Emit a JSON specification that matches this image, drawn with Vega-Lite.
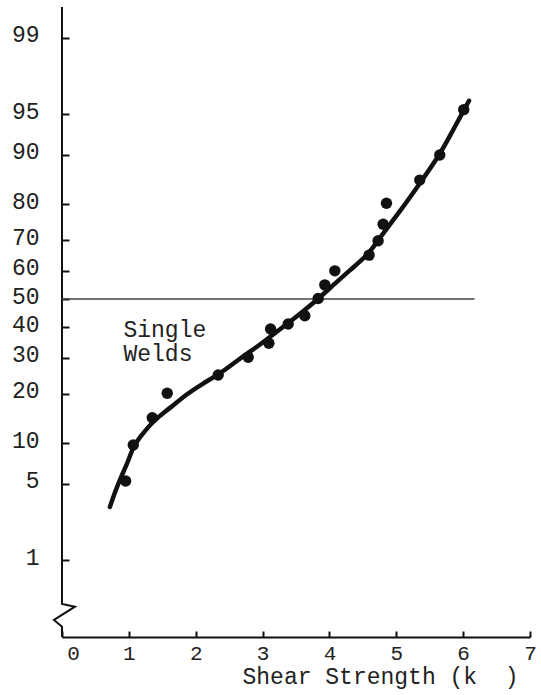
{
  "$schema": "https://vega.github.io/schema/vega-lite/v6.json",
  "width": 468,
  "height": 630,
  "autosize": {"type": "none"},
  "padding": {"left": 62, "top": 7, "right": 11, "bottom": 58},
  "background": "white",
  "config": {
    "view": {"stroke": null},
    "font": "Liberation Mono",
    "axis": {
      "labelFont": "Liberation Mono",
      "labelFontSize": 23,
      "labelColor": "#222",
      "titleFont": "Liberation Mono",
      "titleFontSize": 23,
      "titleFontWeight": "normal",
      "titleColor": "#222",
      "grid": false,
      "tickColor": "#111",
      "tickWidth": 2,
      "domainColor": "#111",
      "domainWidth": 2
    }
  },
  "data": {
    "values": [
      {"kind": "obs", "i": 1, "x": 0.952, "p": 5.27},
      {"kind": "obs", "i": 2, "x": 1.066, "p": 9.7},
      {"kind": "obs", "i": 3, "x": 1.35, "p": 14.55},
      {"kind": "obs", "i": 4, "x": 1.574, "p": 20.1},
      {"kind": "obs", "i": 5, "x": 2.336, "p": 24.95},
      {"kind": "obs", "i": 6, "x": 2.785, "p": 30.2},
      {"kind": "obs", "i": 7, "x": 3.094, "p": 34.7},
      {"kind": "obs", "i": 8, "x": 3.12, "p": 39.5},
      {"kind": "obs", "i": 9, "x": 3.383, "p": 41.2},
      {"kind": "obs", "i": 10, "x": 3.632, "p": 44.1},
      {"kind": "obs", "i": 11, "x": 3.831, "p": 50.2},
      {"kind": "obs", "i": 12, "x": 3.931, "p": 55.0},
      {"kind": "obs", "i": 13, "x": 4.081, "p": 59.9},
      {"kind": "obs", "i": 14, "x": 4.593, "p": 65.2},
      {"kind": "obs", "i": 15, "x": 4.728, "p": 69.8},
      {"kind": "obs", "i": 16, "x": 4.803, "p": 74.7},
      {"kind": "obs", "i": 17, "x": 4.853, "p": 80.3},
      {"kind": "obs", "i": 18, "x": 5.351, "p": 85.5},
      {"kind": "obs", "i": 19, "x": 5.65, "p": 90.0},
      {"kind": "obs", "i": 20, "x": 6.009, "p": 95.4},
      {"kind": "fit", "i": 1, "x": 0.717, "p": 3.22},
      {"kind": "fit", "i": 2, "x": 0.792, "p": 4.3},
      {"kind": "fit", "i": 3, "x": 0.882, "p": 5.66},
      {"kind": "fit", "i": 4, "x": 0.987, "p": 7.35},
      {"kind": "fit", "i": 5, "x": 1.061, "p": 9.39},
      {"kind": "fit", "i": 6, "x": 1.166, "p": 10.97},
      {"kind": "fit", "i": 7, "x": 1.315, "p": 13.11},
      {"kind": "fit", "i": 8, "x": 1.42, "p": 14.48},
      {"kind": "fit", "i": 9, "x": 1.614, "p": 16.6},
      {"kind": "fit", "i": 10, "x": 1.869, "p": 19.9},
      {"kind": "fit", "i": 11, "x": 2.108, "p": 22.66},
      {"kind": "fit", "i": 12, "x": 2.362, "p": 25.24},
      {"kind": "fit", "i": 13, "x": 2.661, "p": 29.88},
      {"kind": "fit", "i": 14, "x": 2.96, "p": 34.13},
      {"kind": "fit", "i": 15, "x": 3.209, "p": 38.55},
      {"kind": "fit", "i": 16, "x": 3.508, "p": 43.76},
      {"kind": "fit", "i": 17, "x": 3.756, "p": 48.48},
      {"kind": "fit", "i": 18, "x": 4.006, "p": 53.78},
      {"kind": "fit", "i": 19, "x": 4.305, "p": 60.18},
      {"kind": "fit", "i": 20, "x": 4.578, "p": 65.21},
      {"kind": "fit", "i": 21, "x": 4.728, "p": 70.02},
      {"kind": "fit", "i": 22, "x": 5.052, "p": 78.14},
      {"kind": "fit", "i": 23, "x": 5.351, "p": 84.8},
      {"kind": "fit", "i": 24, "x": 5.65, "p": 90.0},
      {"kind": "fit", "i": 25, "x": 5.849, "p": 93.37},
      {"kind": "fit", "i": 26, "x": 6.088, "p": 96.11},
      {"kind": "axis", "i": 1, "x": 0, "p": 99.53},
      {"kind": "axis", "i": 2, "x": 0, "p": 0.333},
      {"kind": "axis", "i": 3, "x": 0.194, "p": 0.31},
      {"kind": "axis", "i": 4, "x": -0.12, "p": 0.215},
      {"kind": "axis", "i": 5, "x": 0, "p": 0.178},
      {"kind": "axis", "i": 6, "x": 0, "p": 0.132},
      {"kind": "ref", "i": 1, "x": 0, "p": 50},
      {"kind": "ref", "i": 2, "x": 6.17, "p": 50},
      {"kind": "label", "i": 1, "x": 0.919, "p": 36.9, "text": "Single"},
      {"kind": "label", "i": 2, "x": 0.919, "p": 29.15, "text": "Welds"}
    ]
  },
  "transform": [
    {"calculate": "quantileNormal(datum.p / 100)", "as": "z"}
  ],
  "encoding": {
    "x": {
      "field": "x",
      "type": "quantitative",
      "scale": {"domain": [0, 7], "nice": false, "zero": false},
      "axis": {
        "values": [0, 1, 2, 3, 4, 5, 6, 7],
        "tickSize": -6,
        "labelPadding": 11,
        "labelFontSize": 21,
        "labelAlign": "center",
        "labelOffset": {"condition": {"test": "datum.value === 0", "value": 11}, "value": 0},
        "title": "Shear Strength (k\u00a0\u00a0)",
        "titleX": 318,
        "titleY": 46,
        "titleAlign": "center",
        "titleAnchor": null,
        "titleBaseline": "alphabetic"
      }
    },
    "y": {
      "field": "z",
      "type": "quantitative",
      "scale": {"domain": [-3.007, 2.598], "nice": false, "zero": false},
      "axis": {
        "values": [2.3263, 1.6449, 1.2816, 0.8416, 0.5244, 0.2533, 0, -0.2533, -0.5244, -0.8416, -1.2816, -1.6449, -2.3263],
        "labelExpr": "round(cumulativeNormal(datum.value) * 100)",
        "domain": false,
        "tickSize": -7,
        "labelPadding": 30,
        "labelOffset": -3,
        "title": null
      }
    }
  },
  "layer": [
    {
      "transform": [{"filter": "datum.kind === 'axis'"}],
      "mark": {"type": "line", "color": "#111", "strokeWidth": 2, "clip": false},
      "encoding": {"order": {"field": "i", "type": "quantitative"}}
    },
    {
      "transform": [{"filter": "datum.kind === 'ref'"}],
      "mark": {"type": "line", "color": "#444", "strokeWidth": 1.5},
      "encoding": {"order": {"field": "i", "type": "quantitative"}}
    },
    {
      "transform": [{"filter": "datum.kind === 'fit'"}],
      "mark": {"type": "line", "color": "#111", "strokeWidth": 4.5, "interpolate": "basis", "strokeCap": "round"},
      "encoding": {"order": {"field": "i", "type": "quantitative"}}
    },
    {
      "transform": [{"filter": "datum.kind === 'obs'"}],
      "mark": {"type": "point", "filled": true, "color": "#111", "opacity": 1, "size": 130}
    },
    {
      "transform": [{"filter": "datum.kind === 'label'"}],
      "mark": {"type": "text", "align": "left", "baseline": "alphabetic", "font": "Liberation Mono", "fontSize": 23, "color": "#222"},
      "encoding": {"text": {"field": "text", "type": "nominal"}}
    }
  ]
}
